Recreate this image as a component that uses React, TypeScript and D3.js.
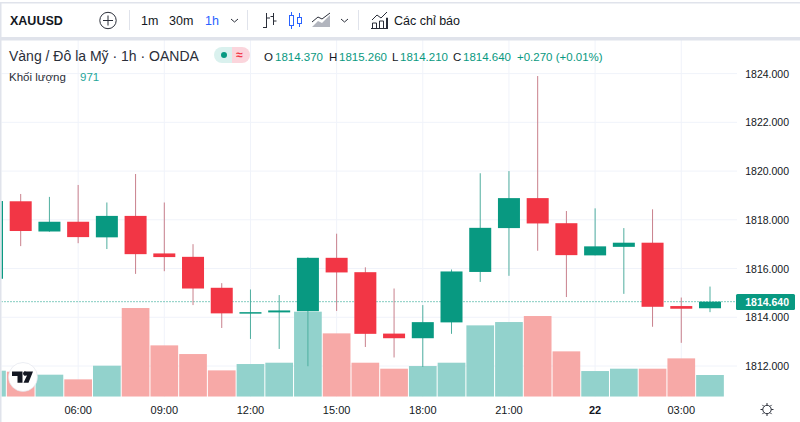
import { scaleLinear } from "d3";

const WIDTH = 800;
const HEIGHT = 422;

const UP = "#089981";
const DOWN = "#f23645";
const TEXT = "#131722";
const GRID = "#f0f3fa";
const BORDER = "#e0e3eb";

// index -1 is the candle cut off by the left edge
const indexes = [-1, 0, 1, 2, 3, 4, 5, 6, 7, 8, 9, 10, 11, 12, 13, 14, 15, 16, 17, 18, 19, 20, 21, 22, 23, 24];
const opens = [1815.58, 1818.76, 1817.52, 1817.92, 1817.28, 1818.16, 1816.62, 1816.48, 1815.21, 1814.16, 1814.2, 1814.25, 1816.44, 1815.85, 1813.33, 1813.14, 1813.79, 1815.86, 1817.66, 1818.89, 1817.86, 1816.54, 1816.89, 1817.06, 1814.46, 1814.37];
const highs = [1819.0, 1819.06, 1818.94, 1819.43, 1818.71, 1819.88, 1818.71, 1817.0, 1815.4, 1815.14, 1814.91, 1816.46, 1817.43, 1816.05, 1815.18, 1814.5, 1815.96, 1819.91, 1820.0, 1823.9, 1818.36, 1818.47, 1817.66, 1818.43, 1814.81, 1815.26];
const lows = [1815.4, 1816.92, 1817.51, 1817.04, 1816.8, 1815.78, 1815.89, 1814.5, 1813.56, 1813.11, 1812.7, 1811.99, 1814.26, 1812.78, 1812.35, 1811.96, 1813.32, 1815.45, 1815.7, 1816.73, 1814.83, 1816.54, 1814.96, 1813.61, 1812.95, 1814.21];
const closes = [1818.77, 1817.54, 1817.92, 1817.29, 1818.16, 1816.59, 1816.47, 1815.18, 1814.16, 1814.21, 1814.28, 1816.44, 1815.84, 1813.32, 1813.14, 1813.8, 1815.88, 1817.67, 1818.89, 1817.85, 1816.55, 1816.91, 1817.06, 1814.43, 1814.35, 1814.64];
const volumes = [1164, 1119, 985, 776, 1387, 3968, 2297, 1909, 1178, 1462, 1521, 3804, 2834, 1521, 1253, 1372, 1521, 3192, 3341, 3610, 2029, 1148, 1253, 1253, 1715, 971];

const priceTicks = [1824, 1822, 1820, 1818, 1816, 1814, 1812];
const timeLabels = ["06:00", "09:00", "12:00", "15:00", "18:00", "21:00", "22", "03:00"];
const timeIndexes = [2, 5, 8, 11, 14, 17, 20, 23];

const LAST_PRICE = 1814.64;
const LAST_VOLUME = 971;

const xScale = scaleLinear().domain([0, 24]).range([20.7, 710]);
const yScale = scaleLinear().domain([1824, 1812]).range([73.6, 366]);
const volScale = scaleLinear().domain([0, LAST_VOLUME]).range([396.7, 375]);

const BODY_W = 22;
const BAR_W = 27.7;
const PLOT_RIGHT = 737;

function Toolbar() {
  return (
    <g>
      <rect x={0} y={2} width={WIDTH} height={1.5} fill={BORDER} />
      <rect x={0} y={37} width={WIDTH} height={3.5} fill={BORDER} />
      <text x={10} y={25} fontSize={12.5} fontWeight={700} fill={TEXT}>XAUUSD</text>

      <circle cx={108} cy={20.5} r={8.2} fill="none" stroke="#2a2e39" strokeWidth={1} />
      <path d="M108 15.5V25.5M103 20.5H113" stroke="#2a2e39" strokeWidth={1} />

      <path d="M129.5 10V30M247.5 10V30M358.5 10V30" stroke={BORDER} strokeWidth={1} />

      <text x={141} y={25} fontSize={12.5} fill={TEXT}>1m</text>
      <text x={169} y={25} fontSize={12.5} fill={TEXT}>30m</text>
      <text x={205} y={25} fontSize={12.5} fill="#2962ff">1h</text>
      <path d="M231 19L234.5 22L238 19M341 19L344.5 22L348 19" fill="none" stroke="#2a2e39" strokeWidth={1} />

      {/* bars icon */}
      <path d="M266.5 13V28M263 27.5H266.5M266.5 18H270M273.5 13V25M270.5 16.5H273.5M273.5 21H276.5" fill="none" stroke="#2a2e39" strokeWidth={1} />
      {/* candles icon */}
      <g fill="none" stroke="#2962ff" strokeWidth={1}>
        <rect x={289.5} y={15.5} width={4} height={10} />
        <path d="M291.5 12V15.5M291.5 25.5V29" />
        <rect x={297.5} y={17.5} width={4} height={6} />
        <path d="M299.5 13V17.5M299.5 23.5V27" />
      </g>
      {/* area icon */}
      <path d="M312 27L318 21L322 23L330 15V27Z" fill="#b2b5be" />
      <path d="M312 22L318 17L322 19L330 13" fill="none" stroke="#2a2e39" strokeWidth={1} />

      {/* indicators icon */}
      <path d="M372 20L377 15L381 18L387 12M372.5 28V23H376.5V28M379.5 28V21H383.5V28M386.5 28V18H387.5V28M371 28.5H388" fill="none" stroke="#2a2e39" strokeWidth={1} />
      <text x={394} y={25} fontSize={12.5} fill={TEXT}>Các chỉ báo</text>
    </g>
  );
}

function Legend() {
  return (
    <g>
      <text x={9} y={60.5} fontSize={14} fill="#2a2e39">Vàng / Đô la Mỹ · 1h · OANDA</text>
      <path d="M232 47H222A8 8 0 0 0 222 63H232Z" fill="#daf1ee" />
      <path d="M232 47H242A8 8 0 0 1 242 63H232Z" fill="#fbd5dc" />
      <circle cx={224} cy={55} r={3} fill={UP} />
      <text x={239.5} y={59} fontSize={12} fontWeight={700} textAnchor="middle" fill={DOWN}>≈</text>

      <g fontSize={11.5}>
        <text x={264} y={60.5} fill={TEXT}>O</text>
        <text x={275} y={60.5} fill={UP}>1814.370</text>
        <text x={329} y={60.5} fill={TEXT}>H</text>
        <text x={339} y={60.5} fill={UP}>1815.260</text>
        <text x={392} y={60.5} fill={TEXT}>L</text>
        <text x={400} y={60.5} fill={UP}>1814.210</text>
        <text x={453} y={60.5} fill={TEXT}>C</text>
        <text x={463} y={60.5} fill={UP}>1814.640</text>
        <text x={517} y={60.5} fill={UP}>+0.270 (+0.01%)</text>
      </g>

      <text x={9} y={81} fontSize={11.5} fill="#2a2e39">Khối lượng</text>
      <text x={80} y={81} fontSize={11.5} fill="#26a69a">{LAST_VOLUME}</text>
    </g>
  );
}

function Gear({ cx, cy }: { cx: number; cy: number }) {
  const teeth = [0, 45, 90, 135, 180, 225, 270, 315];
  return (
    <g stroke="#2a2e39" strokeWidth={1} fill="none">
      <circle cx={cx} cy={cy} r={4.2} />
      {teeth.map(a => {
        const r = (a * Math.PI) / 180;
        return (
          <line
            key={a}
            x1={cx + Math.cos(r) * 4.2}
            y1={cy + Math.sin(r) * 4.2}
            x2={cx + Math.cos(r) * 6.5}
            y2={cy + Math.sin(r) * 6.5}
          />
        );
      })}
    </g>
  );
}

export default function App() {
  return (
    <svg
      width={WIDTH}
      height={HEIGHT}
      viewBox={`0 0 ${WIDTH} ${HEIGHT}`}
      style={{ position: "absolute", left: 0, top: 0, display: "block", background: "#fff" }}
      fontFamily="'Liberation Sans', Arial, sans-serif"
    >
      <defs>
        <clipPath id="plot">
          <rect x={1.5} y={40} width={PLOT_RIGHT - 1.5} height={356.7} />
        </clipPath>
      </defs>

      {/* GRID */}
      {priceTicks.map(t => (
        <line key={t} x1={1.5} x2={PLOT_RIGHT} y1={yScale(t)} y2={yScale(t)} stroke={GRID} />
      ))}
      {timeIndexes.map(i => (
        <line key={i} x1={xScale(i)} x2={xScale(i)} y1={40} y2={396.7} stroke={GRID} />
      ))}

      <Toolbar />
      <Legend />

      <g clipPath="url(#plot)">
        {/* VOLUME */}
        {indexes.map((idx, i) => (
          <rect
            key={idx}
            x={xScale(idx) - BAR_W / 2}
            y={volScale(volumes[i])}
            width={BAR_W}
            height={volScale(0) - volScale(volumes[i])}
            fill={closes[i] >= opens[i] ? "#92d2cc" : "#f7a9a7"}
          />
        ))}

        {/* LAST PRICE */}
        <line
          x1={1.5}
          x2={PLOT_RIGHT}
          y1={yScale(LAST_PRICE)}
          y2={yScale(LAST_PRICE)}
          stroke={UP}
          strokeDasharray="1 2"
        />

        {/* CANDLES */}
        {indexes.map((idx, i) => {
          const up = closes[i] >= opens[i];
          const color = up ? UP : DOWN;
          const top = yScale(Math.max(opens[i], closes[i]));
          const bottom = yScale(Math.min(opens[i], closes[i]));
          return (
            <g key={idx}>
              <line
                x1={xScale(idx)}
                x2={xScale(idx)}
                y1={yScale(highs[i])}
                y2={yScale(lows[i])}
                stroke={up ? "#4fae9f" : "#c9808c"}
              />
              <rect x={xScale(idx) - BODY_W / 2} y={top} width={BODY_W} height={Math.max(bottom - top, 1.5)} fill={color} />
            </g>
          );
        })}
      </g>

      {/* PRICE AXIS */}
      {priceTicks.map(t => (
        <text key={t} x={789} y={yScale(t) + 4} textAnchor="end" fontSize={10.5} fill={TEXT}>
          {t.toFixed(3)}
        </text>
      ))}
      <rect x={736} y={294} width={59} height={16} rx={1.5} fill={UP} />
      <text x={789} y={yScale(LAST_PRICE) + 4} textAnchor="end" fontSize={10.5} fontWeight={700} fill="#fff">
        {LAST_PRICE.toFixed(3)}
      </text>

      {/* TIME AXIS */}
      {timeLabels.map((label, i) => (
        <text
          key={label}
          x={xScale(timeIndexes[i])}
          y={413.5}
          textAnchor="middle"
          fontSize={11}
          fontWeight={label === "22" ? 700 : 400}
          fill={TEXT}
        >
          {label}
        </text>
      ))}
      <Gear cx={767} cy={409.5} />

      {/* LOGO */}
      <circle cx={23} cy={377} r={14.5} fill="#fff" stroke="#e0e3eb" strokeOpacity={0.6} />
      <path d="M12 371.5H22.5V382.7H17.5V376H12ZM24 371.5H33L28.5 382.7H23.5L27 375.5H24Z" fill={TEXT} />
      <circle cx={25} cy={373.6} r={2} fill={TEXT} />

      {/* LEFT EDGE */}
      <rect x={0} y={2} width={1.5} height={HEIGHT - 2} fill={BORDER} />
    </svg>
  );
}
